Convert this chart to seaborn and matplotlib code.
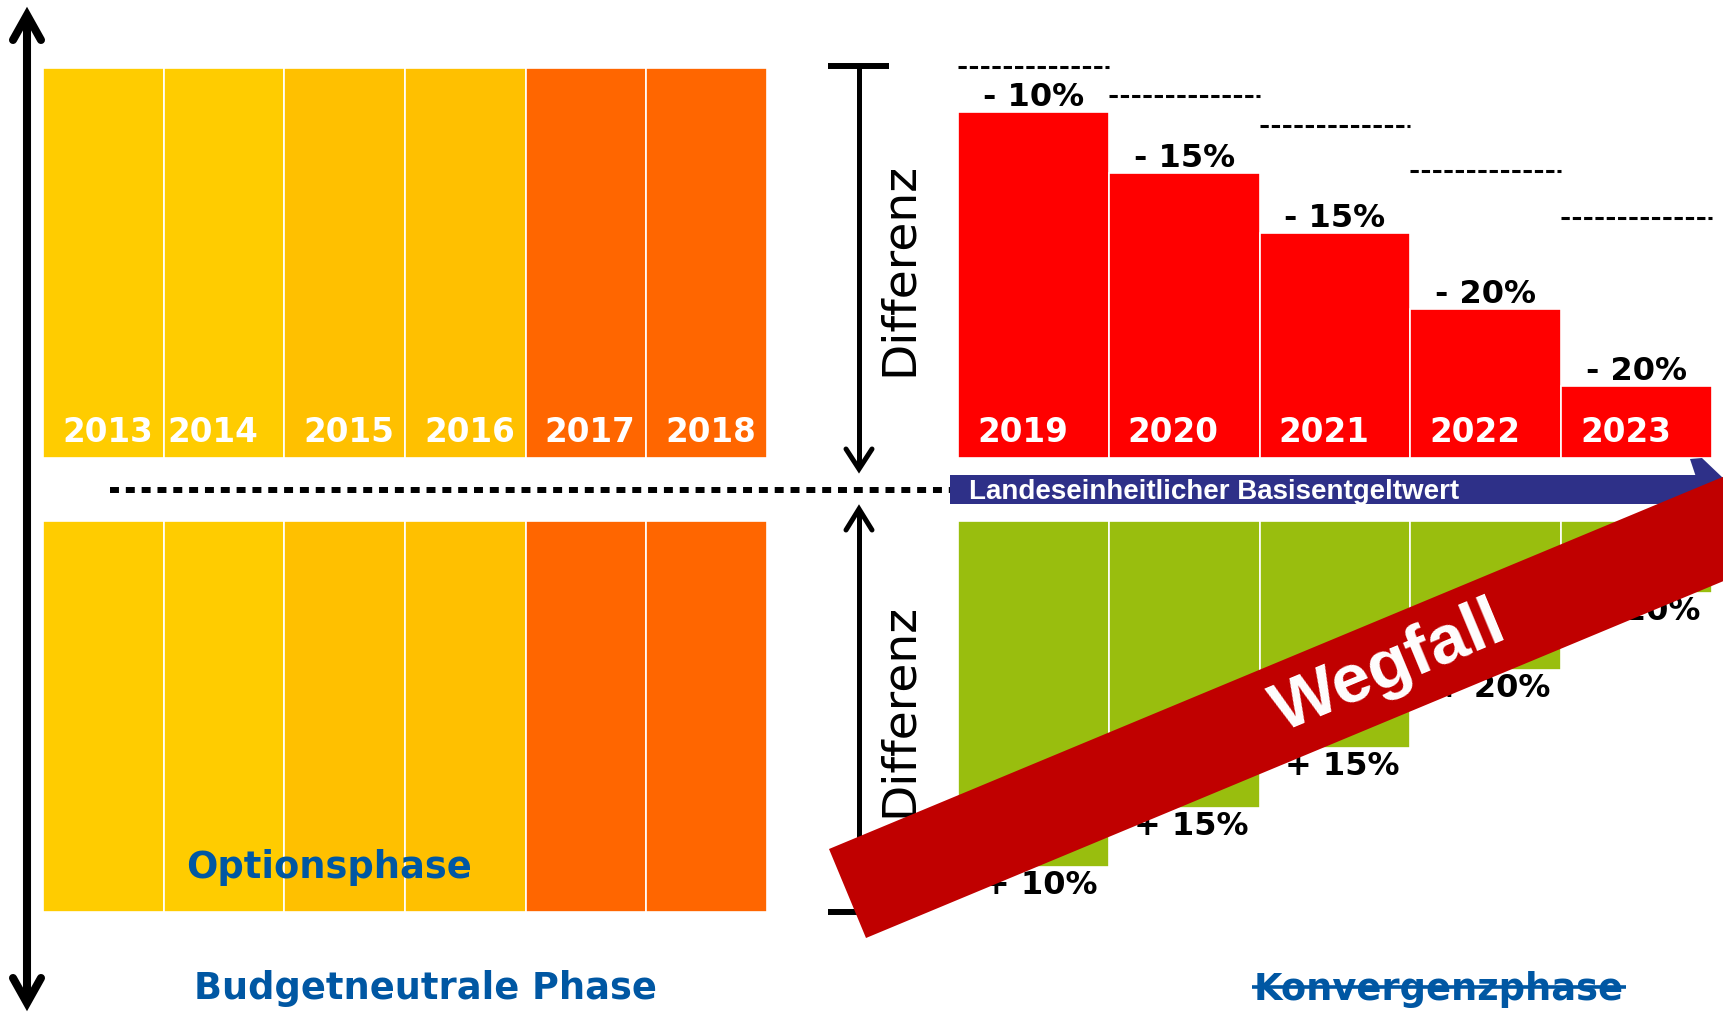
import numpy as np
import pandas as pd
import matplotlib
matplotlib.use("Agg")
import matplotlib.pyplot as plt
import seaborn as sns
from matplotlib.patches import Polygon, Rectangle

# ---------------- data ----------------
years_left = ["2013", "2014", "2015", "2016", "2017", "2018"]
left_values = [100, 100, 100, 100, 100, 100]
left_colors = ["#FFCC00", "#FFCC00", "#FFC000", "#FFC000", "#FF6600", "#FF6600"]

years_right = ["2019", "2020", "2021", "2022", "2023"]
red_values = [88.5, 73, 57.5, 38, 18.5]          # upper bars (minus)
prev_levels = [100, 92.5, 85, 73.5, 61.5]        # dashed reference levels
green_values = [88.5, 73.5, 58, 38, 18.5]        # lower bars (plus)
red_labels = ["- 10%", "- 15%", "- 15%", "- 20%", "- 20%"]
green_labels = ["+ 10%", "+ 15%", "+ 15%", "+ 20%", "+ 20%"]

band_text = "Landeseinheitlicher Basisentgeltwert"
diff_text = "Differenz"
option_text = "Optionsphase"
budget_text = "Budgetneutrale Phase"
konv_text = "Konvergenzphase"
wegfall_text = "Wegfall"

# ---------------- layout ----------------
W, H = 1723, 1017
DPI = 100
BLUE_TXT = "#0057A3"
sns.set_theme(style="white")
plt.rcParams["font.family"] = ["DejaVu Sans"]

fig = plt.figure(figsize=(W / DPI, H / DPI), dpi=DPI, facecolor="white")


def px_axes(l, t, r, b):
    return fig.add_axes([l / W, (H - b) / H, (r - l) / W, (b - t) / H])


def bars(ax, cats, vals, colors, inverted=False):
    df = pd.DataFrame({"cat": cats, "val": vals})
    sns.barplot(data=df, x="cat", y="val", hue="cat", order=cats, hue_order=cats,
                palette=colors, legend=False, width=1.0, saturation=1,
                edgecolor="white", linewidth=1.2, ax=ax)
    ax.set_xlim(-0.5, len(cats) - 0.5)
    if inverted:
        ax.set_ylim(100, 0)
    else:
        ax.set_ylim(0, 100)
    ax.axis("off")


# left upper / lower
ax_ul = px_axes(43, 68, 767, 458)
bars(ax_ul, years_left, left_values, left_colors)
ax_ll = px_axes(43, 521, 767, 912)
bars(ax_ll, years_left, left_values, left_colors, inverted=True)

# right upper / lower
ax_ur = px_axes(958, 67, 1712, 458)
bars(ax_ur, years_right, red_values, ["#FF0000"] * len(years_right))
ax_lr = px_axes(958, 521, 1712, 912)
bars(ax_lr, years_right, green_values, ["#99BE0E"] * len(years_right), inverted=True)

# year labels
left_offsets = [4, -11, 4, 4, 4, 4]
for i, (yr, dx) in enumerate(zip(years_left, left_offsets)):
    ax_ul.annotate(yr, xy=(i, 0), xytext=(dx, 16), textcoords="offset pixels",
                   ha="center", va="baseline", color="white", fontsize=23.5,
                   fontweight="bold", annotation_clip=False)
for i, yr in enumerate(years_right):
    ax_ur.annotate(yr, xy=(i, 0), xytext=(-11, 16), textcoords="offset pixels",
                   ha="center", va="baseline", color="white", fontsize=23.5,
                   fontweight="bold", annotation_clip=False)

# percentage labels
for i, (v, lab) in enumerate(zip(red_values, red_labels)):
    ax_ur.annotate(lab, xy=(i, v), xytext=(0, 6), textcoords="offset pixels",
                   ha="center", va="baseline", color="black", fontsize=23,
                   fontweight="bold", annotation_clip=False)
for i, (v, lab) in enumerate(zip(green_values, green_labels)):
    ax_lr.annotate(lab, xy=(i, v), xytext=(7, -27), textcoords="offset pixels",
                   ha="center", va="baseline", color="black", fontsize=23,
                   fontweight="bold", annotation_clip=False)

# dashed previous levels
xs = np.arange(len(years_right))
ax_ur.hlines(prev_levels, xs - 0.5, xs + 0.5, colors="black", linewidth=2.2,
             linestyles=(0, (2.7, 1.0)), clip_on=False)

# ---------------- overlay decorations ----------------
ov = fig.add_axes([0, 0, 1, 1])
ov.set_xlim(0, W)
ov.set_ylim(H, 0)
ov.axis("off")
ov.set_zorder(10)
ov.patch.set_alpha(0)

# big left double arrow
lw_big = 5.8
ov.plot([27, 27], [18, 1000], color="black", lw=lw_big, solid_capstyle="butt")
ov.plot([13, 27, 41], [40, 15, 40], color="black", lw=lw_big,
        solid_capstyle="round", solid_joinstyle="miter")
ov.plot([13, 27, 41], [978, 1003, 978], color="black", lw=lw_big,
        solid_capstyle="round", solid_joinstyle="miter")

# dotted line
ov.plot([110, 950], [490, 490], color="black", lw=4.3,
        linestyle=(0, (1.5, 1.15)), dash_capstyle="butt")

# Differenz arrows (upper)
ov.plot([828, 889], [66, 66], color="black", lw=4.3, solid_capstyle="butt")
ov.plot([859, 859], [66, 466], color="black", lw=3.6, solid_capstyle="butt")
ov.plot([846, 859, 872], [449, 469, 449], color="black", lw=3.6,
        solid_capstyle="round", solid_joinstyle="miter")
# Differenz arrows (lower)
ov.plot([828, 889], [912, 912], color="black", lw=4.3, solid_capstyle="butt")
ov.plot([859, 859], [512, 912], color="black", lw=3.6, solid_capstyle="butt")
ov.plot([846, 859, 872], [530, 509, 530], color="black", lw=3.6,
        solid_capstyle="round", solid_joinstyle="miter")

ov.text(899, 269, diff_text, rotation=90, ha="center", va="center",
        fontsize=34, color="black")
ov.text(899, 710, diff_text, rotation=90, ha="center", va="center",
        fontsize=34, color="black")

# blue band with arrow tip
ov.add_patch(Rectangle((950, 475), 762, 29, facecolor="#2E3088", edgecolor="none",
                       zorder=3))
ov.add_patch(Polygon([(1690, 459), (1702, 458), (1723, 478), (1723, 504), (1705, 504)],
                     closed=True, facecolor="#2E3088", edgecolor="none", zorder=3))
ov.text(969, 499, band_text, ha="left", va="baseline", color="white",
        fontsize=20, fontweight="bold", family=["Liberation Sans", "DejaVu Sans"],
        zorder=4)

# phase labels
ov.text(329, 878, option_text, ha="center", va="baseline", color=BLUE_TXT,
        fontsize=26.5, fontweight="bold")
ov.text(425, 999, budget_text, ha="center", va="baseline", color=BLUE_TXT,
        fontsize=26.5, fontweight="bold")
ov.text(1439, 1000, konv_text, ha="center", va="baseline", color=BLUE_TXT,
        fontsize=26.5, fontweight="bold")
ov.plot([1252, 1626], [987, 987], color=BLUE_TXT, lw=2.6, solid_capstyle="butt")

# "Wegfall" banner (on top of everything)
ang = np.deg2rad(22.6)
u = np.array([np.cos(ang), -np.sin(ang)])
tl = np.array([829.0, 849.0])
bl = np.array([866.0, 938.0])
L = 1150
ov.add_patch(Polygon([tl, bl, bl + L * u, tl + L * u], closed=True,
                     facecolor="#C00000", edgecolor="none", zorder=20))
ov.text(1389, 668, wegfall_text, rotation=22.6, rotation_mode="anchor",
        ha="center", va="center", color="white", fontsize=50, fontweight="bold",
        family=["Liberation Sans", "DejaVu Sans"], zorder=21)

fig.savefig("out.png", dpi=DPI, facecolor="white")
